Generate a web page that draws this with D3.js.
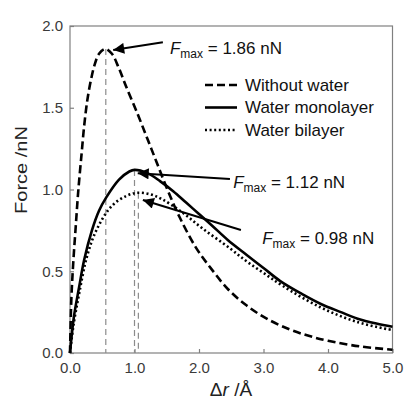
<!DOCTYPE html>
<html>
<head>
<meta charset="utf-8">
<script src="https://cdn.jsdelivr.net/npm/d3@7"></script>
<style>
	body { margin: 0; background: #fff; }
	text { font-family: "Liberation Sans", Arial, sans-serif; }
</style>
</head>
<body>
<div id="chart"></div>
<script>
var width = 404,
	height = 399;

// series (x in Angstrom, force in nN)
var dryX = [0, 0.02, 0.05, 0.09, 0.13, 0.18, 0.22, 0.27, 0.33, 0.38, 0.45, 0.55, 0.65, 0.75, 0.87, 1.05, 1.2, 1.34, 1.51, 1.7, 1.96, 2.2, 2.45, 2.74, 3.05, 3.4, 3.7, 4.0, 4.5, 5.0];
var dryY = [0, 0.32, 0.55, 0.78, 1.0, 1.22, 1.39, 1.55, 1.68, 1.76, 1.83, 1.86, 1.83, 1.75, 1.63, 1.46, 1.31, 1.17, 1.0, 0.83, 0.64, 0.51, 0.39, 0.29, 0.21, 0.145, 0.105, 0.075, 0.04, 0.02];

var monoX = [0, 0.06, 0.14, 0.22, 0.34, 0.45, 0.56, 0.76, 0.92, 1.0, 1.2, 1.4, 1.6, 1.8, 2.0, 2.2, 2.45, 2.74, 3.0, 3.26, 3.6, 3.89, 4.2, 4.46, 4.75, 5.0];
var monoY = [0, 0.22, 0.40, 0.57, 0.75, 0.87, 0.95, 1.06, 1.11, 1.12, 1.10, 1.05, 0.99, 0.92, 0.85, 0.78, 0.69, 0.60, 0.52, 0.44, 0.36, 0.30, 0.25, 0.21, 0.18, 0.16];

var biX = [0, 0.05, 0.14, 0.27, 0.42, 0.65, 0.87, 1.05, 1.25, 1.43, 1.74, 2.06, 2.48, 2.74, 3.0, 3.3, 3.88, 4.45, 5.0];
var biY = [0, 0.16, 0.36, 0.60, 0.76, 0.90, 0.96, 0.98, 0.97, 0.94, 0.86, 0.76, 0.64, 0.56, 0.49, 0.41, 0.28, 0.19, 0.14];

var seriesNames = ["Without water", "Water monolayer", "Water bilayer"];
var seriesDash = ["8,4", null, "2,2.6"];

// peaks (x, Fmax)
var peakX = [0.555, 1.0, 1.06];
var peakY = [1.86, 1.12, 0.98];
var peakLabels = ["1.86 nN", "1.12 nN", "0.98 nN"];

// arrows in data units: tail -> tip, text anchor
var arrowTail = [[1.44, 1.90], [2.48, 1.064], [2.65, 0.752]];
var arrowTip = [[0.67, 1.853], [1.05, 1.10], [1.13, 0.936]];
var labelPos = [[1.55, 1.83], [2.53, 1.01], [2.98, 0.667]];

var xTicks = [0, 1, 2, 3, 4, 5];
var yTicks = [0, 0.5, 1.0, 1.5, 2.0];

var x = d3.scaleLinear().domain([0, 5]).range([70, 392.5]);
var y = d3.scaleLinear().domain([0, 2]).range([353, 26]);

var svg = d3.select("#chart")
	.append("svg")
	.attr("width", width)
	.attr("height", height);

svg.append("defs").append("marker")
	.attr("id", "head")
	.attr("viewBox", "0 0 10 10")
	.attr("refX", 10)
	.attr("refY", 5)
	.attr("markerUnits", "userSpaceOnUse")
	.attr("markerWidth", 17)
	.attr("markerHeight", 11)
	.attr("orient", "auto")
	.append("path")
	.attr("d", "M0,0 L10,5 L0,10 Z")
	.attr("fill", "#000");

// frame
svg.append("rect")
	.attr("x", x(0))
	.attr("y", y(2))
	.attr("width", x(5) - x(0))
	.attr("height", y(0) - y(2))
	.attr("fill", "none")
	.attr("stroke", "#808080")
	.attr("stroke-width", 1.2);

// axes, ticks inward
var xAxis = svg.append("g")
	.attr("transform", "translate(0," + y(0) + ")")
	.call(d3.axisBottom(x).tickValues(xTicks).tickSizeInner(-4).tickSizeOuter(0).tickPadding(9).tickFormat(d3.format(".1f")));
var yAxis = svg.append("g")
	.attr("transform", "translate(" + x(0) + ",0)")
	.call(d3.axisLeft(y).tickValues(yTicks).tickSizeInner(-4).tickSizeOuter(0).tickPadding(7).tickFormat(d3.format(".1f")));

[xAxis, yAxis].forEach(function(g) {
	g.select(".domain").remove();
	g.selectAll(".tick line").attr("stroke", "#808080").attr("stroke-width", 1.2);
	g.selectAll(".tick text")
		.attr("fill", "#3a3a3a")
		.style("font-size", "15px")
		.style("font-family", "Liberation Sans, Arial, sans-serif");
});

// axis titles
svg.append("text")
	.attr("transform", "translate(27,170) rotate(-90) scale(1.18,1)")
	.attr("text-anchor", "middle")
	.attr("fill", "#222")
	.style("font-size", "17px")
	.text("Force /nN");

var xt = svg.append("text")
	.attr("x", 231)
	.attr("y", 396)
	.attr("text-anchor", "middle")
	.attr("fill", "#222")
	.style("font-size", "19px");
xt.append("tspan").text("Δ");
xt.append("tspan").attr("font-style", "italic").text("r");
xt.append("tspan").text(" /Å");

// peak drop lines
svg.selectAll("line.drop")
	.data(peakX)
	.enter()
	.append("line")
	.attr("class", "drop")
	.attr("x1", function(d) { return x(d); })
	.attr("x2", function(d) { return x(d); })
	.attr("y1", function(d, i) { return y(peakY[i]); })
	.attr("y2", y(0))
	.attr("stroke", "#8c8c8c")
	.attr("stroke-width", 1.2)
	.attr("stroke-dasharray", "6,4");

// curves
var line = d3.line()
	.x(function(d) { return x(d[0]); })
	.y(function(d) { return y(d[1]); })
	.curve(d3.curveCatmullRom.alpha(0.5));

var series = [d3.zip(dryX, dryY), d3.zip(monoX, monoY), d3.zip(biX, biY)];

svg.selectAll("path.curve")
	.data(series)
	.enter()
	.append("path")
	.attr("class", "curve")
	.attr("d", line)
	.attr("fill", "none")
	.attr("stroke", "#000")
	.attr("stroke-width", 2.6)
	.attr("stroke-dasharray", function(d, i) { return seriesDash[i]; });

// legend
var legend = svg.selectAll("g.legend")
	.data(seriesNames)
	.enter()
	.append("g")
	.attr("class", "legend")
	.attr("transform", function(d, i) { return "translate(205," + (85 + i * 22.5) + ")"; });
legend.append("line")
	.attr("x1", 0)
	.attr("x2", 32)
	.attr("stroke", "#000")
	.attr("stroke-width", 2.6)
	.attr("stroke-dasharray", function(d, i) { return seriesDash[i]; });
legend.append("text")
	.attr("x", 40)
	.attr("dy", "0.35em")
	.attr("fill", "#111")
	.style("font-size", "17px")
	.text(function(d) { return d; });

// arrows
svg.selectAll("line.arrow")
	.data(arrowTail)
	.enter()
	.append("line")
	.attr("class", "arrow")
	.attr("x1", function(d) { return x(d[0]); })
	.attr("y1", function(d) { return y(d[1]); })
	.attr("x2", function(d, i) { return x(arrowTip[i][0]); })
	.attr("y2", function(d, i) { return y(arrowTip[i][1]); })
	.attr("stroke", "#000")
	.attr("stroke-width", 2)
	.attr("marker-end", "url(#head)");

// Fmax labels
var lab = svg.selectAll("text.fmax")
	.data(peakLabels)
	.enter()
	.append("text")
	.attr("class", "fmax")
	.attr("x", function(d, i) { return x(labelPos[i][0]); })
	.attr("y", function(d, i) { return y(labelPos[i][1]); })
	.attr("fill", "#111")
	.style("font-size", "17px");
lab.append("tspan").attr("font-style", "italic").text("F");
lab.append("tspan").attr("dy", 4).style("font-size", "12px").text("max");
lab.append("tspan").attr("dy", -4).text(function(d) { return " = " + d; });
</script>
</body>
</html>
